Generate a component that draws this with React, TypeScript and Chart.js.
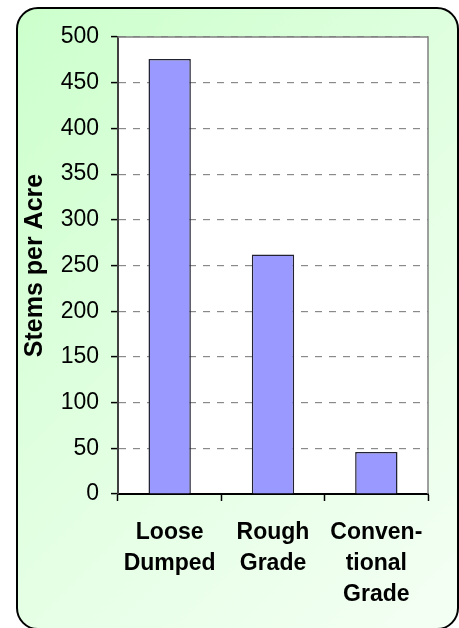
import React, { useEffect, useRef } from "react";
import { Chart, registerables } from "chart.js";

Chart.register(...registerables);

const categories: string[][] = [
  ["Loose", "Dumped"],
  ["Rough", "Grade"],
  ["Conven-", "tional", "Grade"],
];
const stemsPerAcre: number[] = [476, 262, 46];
const yMin = 0;
const yMax = 500;
const yStep = 50;
const yTitle = "Stems per Acre";

const plotFrame = {
  id: "plotFrame",
  beforeDraw(chart: any) {
    const { ctx, chartArea: a } = chart;
    ctx.save();
    ctx.fillStyle = "#ffffff";
    ctx.fillRect(a.left, a.top, a.right - a.left, a.bottom - a.top);
    ctx.restore();
  },
  afterDatasetsDraw(chart: any) {
    const { ctx, chartArea: a } = chart;
    ctx.save();
    ctx.strokeStyle = "#808080";
    ctx.lineWidth = 1.5;
    ctx.beginPath();
    ctx.moveTo(a.left, a.top);
    ctx.lineTo(a.right, a.top);
    ctx.lineTo(a.right, a.bottom);
    ctx.stroke();
    ctx.restore();
  },
};

export default function App() {
  const canvasRef = useRef<HTMLCanvasElement | null>(null);

  useEffect(() => {
    const canvas = canvasRef.current;
    if (!canvas) return;
    const chart = new Chart(canvas, {
      type: "bar",
      data: {
        labels: categories,
        datasets: [
          {
            data: stemsPerAcre,
            backgroundColor: "#9999ff",
            borderColor: "#222233",
            borderWidth: 1.5,
            barPercentage: 0.41,
            categoryPercentage: 1.0,
          },
        ],
      },
      options: {
        animation: false,
        responsive: false,
        maintainAspectRatio: false,
        layout: { padding: { left: 20, top: 37, right: 31, bottom: 0 } },
        plugins: {
          legend: { display: false },
          tooltip: { enabled: false },
        },
        scales: {
          x: {
            offset: true,
            grid: {
              offset: true,
              drawOnChartArea: false,
              drawTicks: true,
              tickLength: 7,
              tickColor: "#000000",
              tickWidth: 1.5,
            },
            border: { display: true, color: "#000000", width: 2 },
            ticks: {
              color: "#000000",
              padding: 16,
              maxRotation: 0,
              autoSkip: false,
              font: {
                family: "'Liberation Sans', Arial, sans-serif",
                size: 23,
                weight: "bold",
                lineHeight: "31px",
              },
            },
            afterFit: (scale: any) => {
              scale.height = 134;
            },
          },
          y: {
            min: yMin,
            max: yMax,
            ticks: {
              stepSize: yStep,
              color: "#000000",
              padding: 12,
              font: {
                family: "'Liberation Sans', Arial, sans-serif",
                size: 23,
              },
            },
            grid: {
              color: "#8a8a8a",
              lineWidth: 1.2,
              drawTicks: true,
              tickLength: 7,
              tickColor: "#000000",
              tickWidth: 1.5,
              tickBorderDash: [],
            },
            border: { display: true, color: "#404040", width: 2, dash: [7, 7] },
            title: {
              display: true,
              text: yTitle,
              color: "#000000",
              padding: 0,
              font: {
                family: "'Liberation Sans', Arial, sans-serif",
                size: 25,
                weight: "bold",
                lineHeight: 1.2,
              },
            },
            afterFit: (scale: any) => {
              scale.width = 98;
            },
          },
        },
      },
      plugins: [plotFrame],
    });
    return () => chart.destroy();
  }, []);

  return (
    <div style={{ position: "absolute", left: 0, top: 0, width: 459, height: 628, overflow: "hidden" }}>
      <div
        style={{
          position: "absolute",
          left: 16,
          top: 7,
          width: 443,
          height: 623,
          boxSizing: "border-box",
          border: "2px solid #000",
          borderRadius: 22,
          background: "linear-gradient(135deg, #ccffcc 0%, #e4ffe4 55%, #f4fff4 100%)",
        }}
      />
      <canvas
        ref={canvasRef}
        width={459}
        height={628}
        style={{ position: "absolute", left: 0, top: 0, width: 459, height: 628 }}
      />
    </div>
  );
}
